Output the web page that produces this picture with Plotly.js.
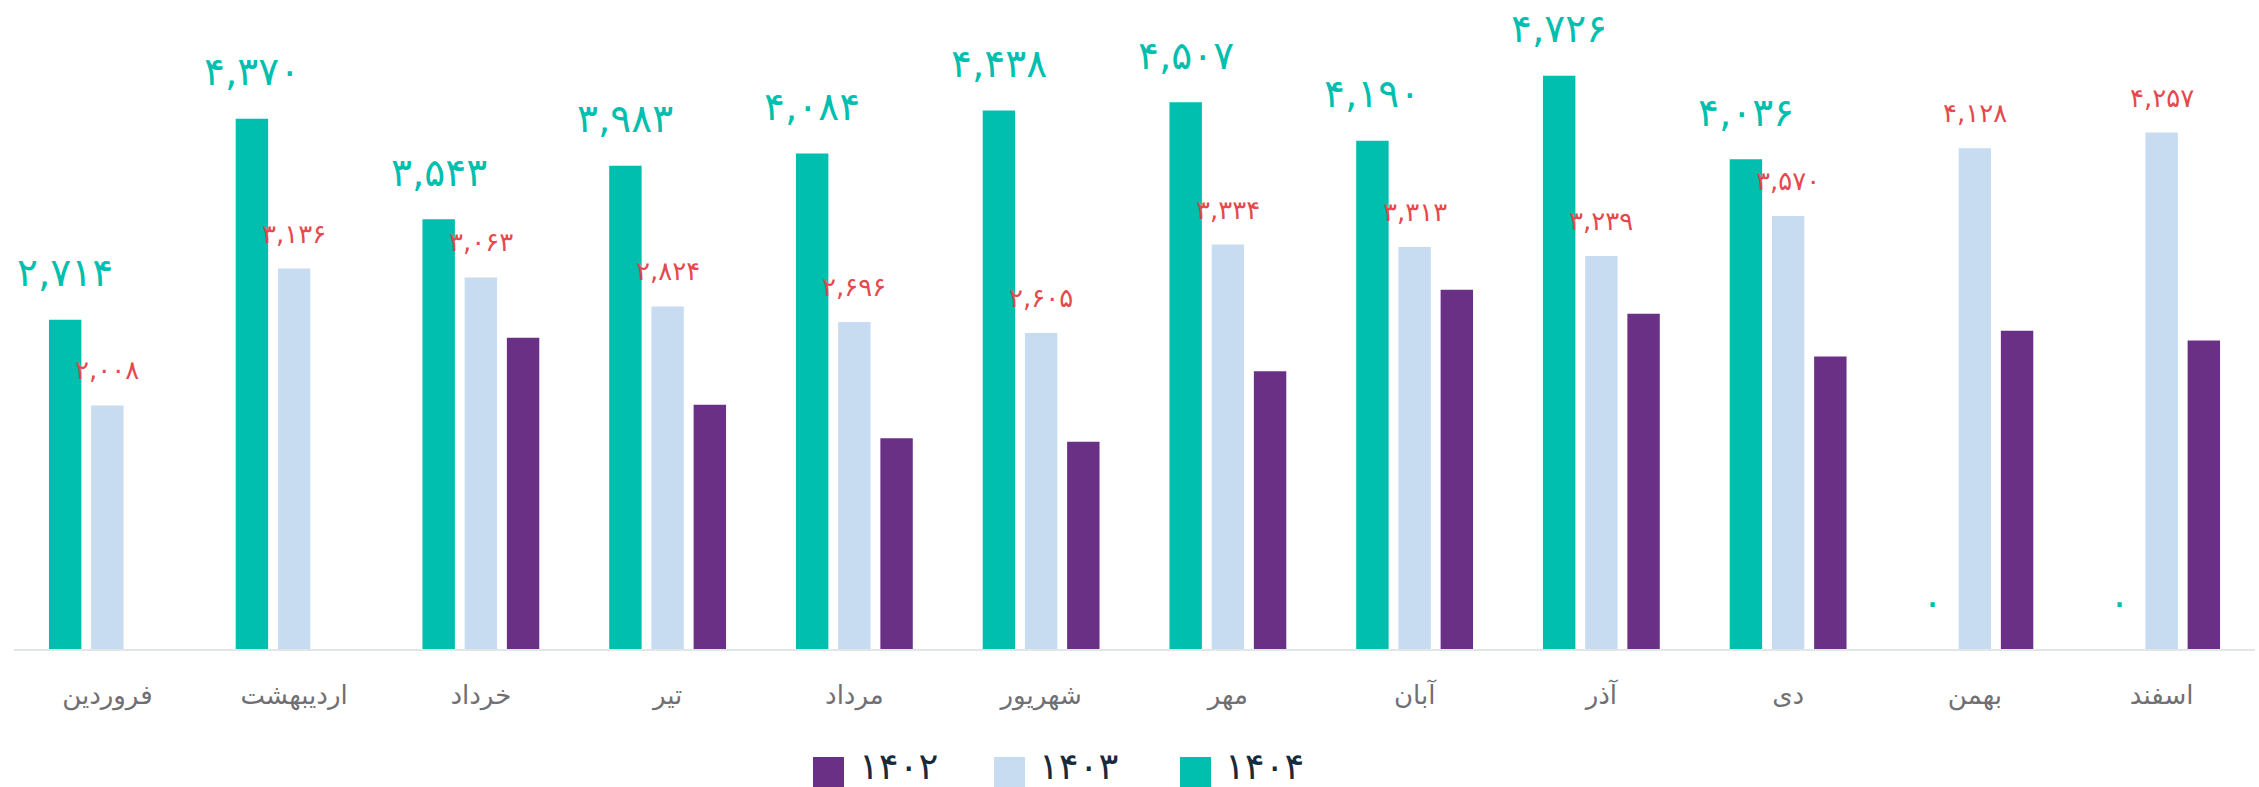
<!DOCTYPE html>
<html>
<head>
<meta charset="utf-8">
<script src="https://cdn.plot.ly/plotly-3.0.1.min.js"></script>
<style>
html,body{margin:0;padding:0;background:#ffffff;}
#chart{width:2259px;height:787px;}
</style>
</head>
<body>
<div id="chart"></div>
<script>
// ---- data ----
const months = ['فروردین','اردیبهشت','خرداد','تیر','مرداد','شهریور','مهر','آبان','آذر','دی','بهمن','اسفند'];
const seriesNames = ['۱۴۰۴','۱۴۰۳','۱۴۰۲'];
const v1404 = [2714, 4370, 3543, 3983, 4084, 4438, 4507, 4190, 4726, 4036, 0, 0];
const v1403 = [2008, 3136, 3063, 2824, 2696, 2605, 3334, 3313, 3239, 3570, 4128, 4257];
const v1402 = [null, null, 2566, 2014, 1737, 1709, 2289, 2962, 2764, 2410, 2624, 2542];
const legendOrder = [2, 1, 0]; // 1402, 1403, 1404

// ---- styles ----
const colors = ['#00bfae', '#c7dcf0', '#6a3086'];
const labelColors = ['#00bfae', '#e5484d', null];
const labelSizes = [39, 26, 0];
const labelShift = [47, 35, 0];
const FONT = 'DejaVu Sans, sans-serif';

const W = 2259, H = 787;
const M = {l: 14, r: 4, t: 6, b: 138};
const BARGAP = 0.322, BARGROUPGAP = 0.232;
const plotW = W - M.l - M.r, plotH = H - M.t - M.b;

function fa(n) {
  return n.toLocaleString('en-US').replace(/\d/g, d => '۰۱۲۳۴۵۶۷۸۹'[+d]);
}

const allSeries = [v1404, v1403, v1402];
const traces = allSeries.map((vals, k) => ({
  type: 'bar',
  name: seriesNames[k],
  x: months,
  y: vals,
  marker: {color: colors[k]},
  hoverinfo: 'x+y+name',
  showlegend: false
}));

// value labels (annotations anchored on the data values)
const catW = plotW / months.length;
const slotW = catW * (1 - BARGAP) / allSeries.length;
const annotations = [];
allSeries.forEach((vals, k) => {
  if (!labelColors[k]) return;
  vals.forEach((v, i) => {
    if (v === null) return;
    annotations.push({
      x: months[i], y: v, xref: 'x', yref: 'y',
      xshift: (k - (allSeries.length - 1) / 2) * slotW,
      yshift: labelShift[k],
      yanchor: 'middle', xanchor: 'center',
      text: fa(v), showarrow: false,
      font: {family: FONT, size: labelSizes[k], color: labelColors[k]}
    });
  });
});

// manual legend (big squares)
const px2x = px => (px - M.l) / plotW;
const px2y = py => (H - M.b - py) / plotH;
const legSquareX = [813, 994, 1180];
const legTextX = [857, 1037, 1223];
const shapes = [];
legendOrder.forEach((k, j) => {
  shapes.push({
    type: 'rect', xref: 'paper', yref: 'paper', layer: 'above',
    x0: px2x(legSquareX[j]), x1: px2x(legSquareX[j] + 31),
    y0: px2y(757), y1: px2y(789),
    fillcolor: colors[k], line: {width: 0}
  });
  annotations.push({
    xref: 'paper', yref: 'paper',
    x: px2x(legTextX[j]), y: px2y(766),
    xanchor: 'left', yanchor: 'middle',
    text: seriesNames[k], showarrow: false,
    font: {family: FONT, size: 37, color: '#172b3a'}
  });
});

const layout = {
  width: W, height: H,
  margin: M,
  paper_bgcolor: '#ffffff', plot_bgcolor: '#ffffff',
  barmode: 'group',
  bargap: BARGAP, bargroupgap: BARGROUPGAP,
  showlegend: false,
  font: {family: FONT},
  xaxis: {
    type: 'category',
    showline: true, linecolor: '#e3e6e9', linewidth: 2,
    showgrid: false, zeroline: false, ticks: '',
    ticklabelstandoff: 22,
    tickfont: {family: FONT, size: 26, color: '#707074'}
  },
  yaxis: {
    range: [0, 5300], visible: false, showgrid: false, zeroline: false
  },
  annotations: annotations,
  shapes: shapes
};

Plotly.newPlot('chart', traces, layout, {displayModeBar: false, staticPlot: true});
</script>
</body>
</html>
